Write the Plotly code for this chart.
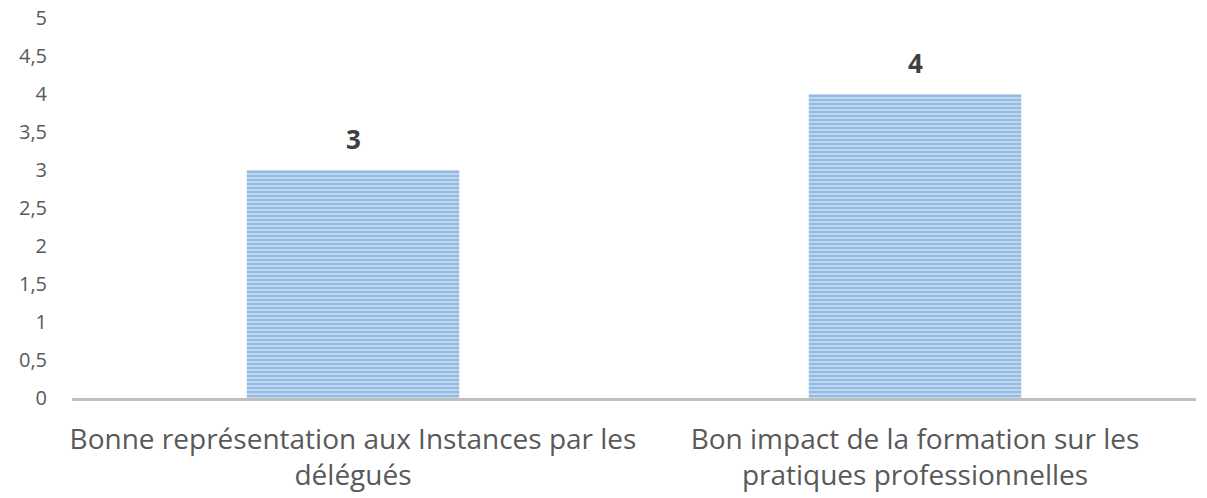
import plotly.graph_objects as go

categories = ["Bonne représentation aux Instances par les<br>délégués",
              "Bon impact de la formation sur les<br>pratiques professionnelles"]
values = [3, 4]
tick_vals = [0, 0.5, 1, 1.5, 2, 2.5, 3, 3.5, 4, 4.5, 5]
tick_text = ["0", "0,5", "1", "1,5", "2", "2,5", "3", "3,5", "4", "4,5", "5"]

FONT = "Open Sans"

fig = go.Figure()
fig.add_trace(go.Bar(
    x=categories, y=values, width=0.378,
    marker=dict(color="#bdd7ee", line=dict(width=0),
                pattern=dict(shape="-", fgcolor="#5b9bd5", bgcolor="#c8dcf1",
                             size=4, solidity=0.6)),
    hoverinfo="skip",
))
for c, v in zip(categories, values):
    fig.add_annotation(x=c, y=v, text=f"<b>{v}</b>", showarrow=False,
                       yshift=31, font=dict(family=FONT, size=26, color="#404040"))

fig.update_layout(
    width=1207, height=498,
    margin=dict(l=72, r=11, t=18, b=100),
    paper_bgcolor="white", plot_bgcolor="white",
    showlegend=False,
    separators=", ",
    font=dict(family=FONT, color="#595959"),
)
fig.update_xaxes(showline=True, linecolor="#bfbfbf", linewidth=3,
                 tickfont=dict(family=FONT, size=28, color="#595959"),
                 ticks="", showgrid=False, ticklabelstandoff=14, automargin=False)
fig.update_yaxes(range=[0, 5], tickvals=tick_vals, ticktext=tick_text,
                 showgrid=False, zeroline=False, showline=False,
                 tickfont=dict(family=FONT, size=20, color="#595959"),
                 ticks="", ticklabelstandoff=24, automargin=False)
fig.write_html("out.html", config={"displayModeBar": False},
               post_script="document.body.style.margin='0';document.body.style.overflow='hidden';")
